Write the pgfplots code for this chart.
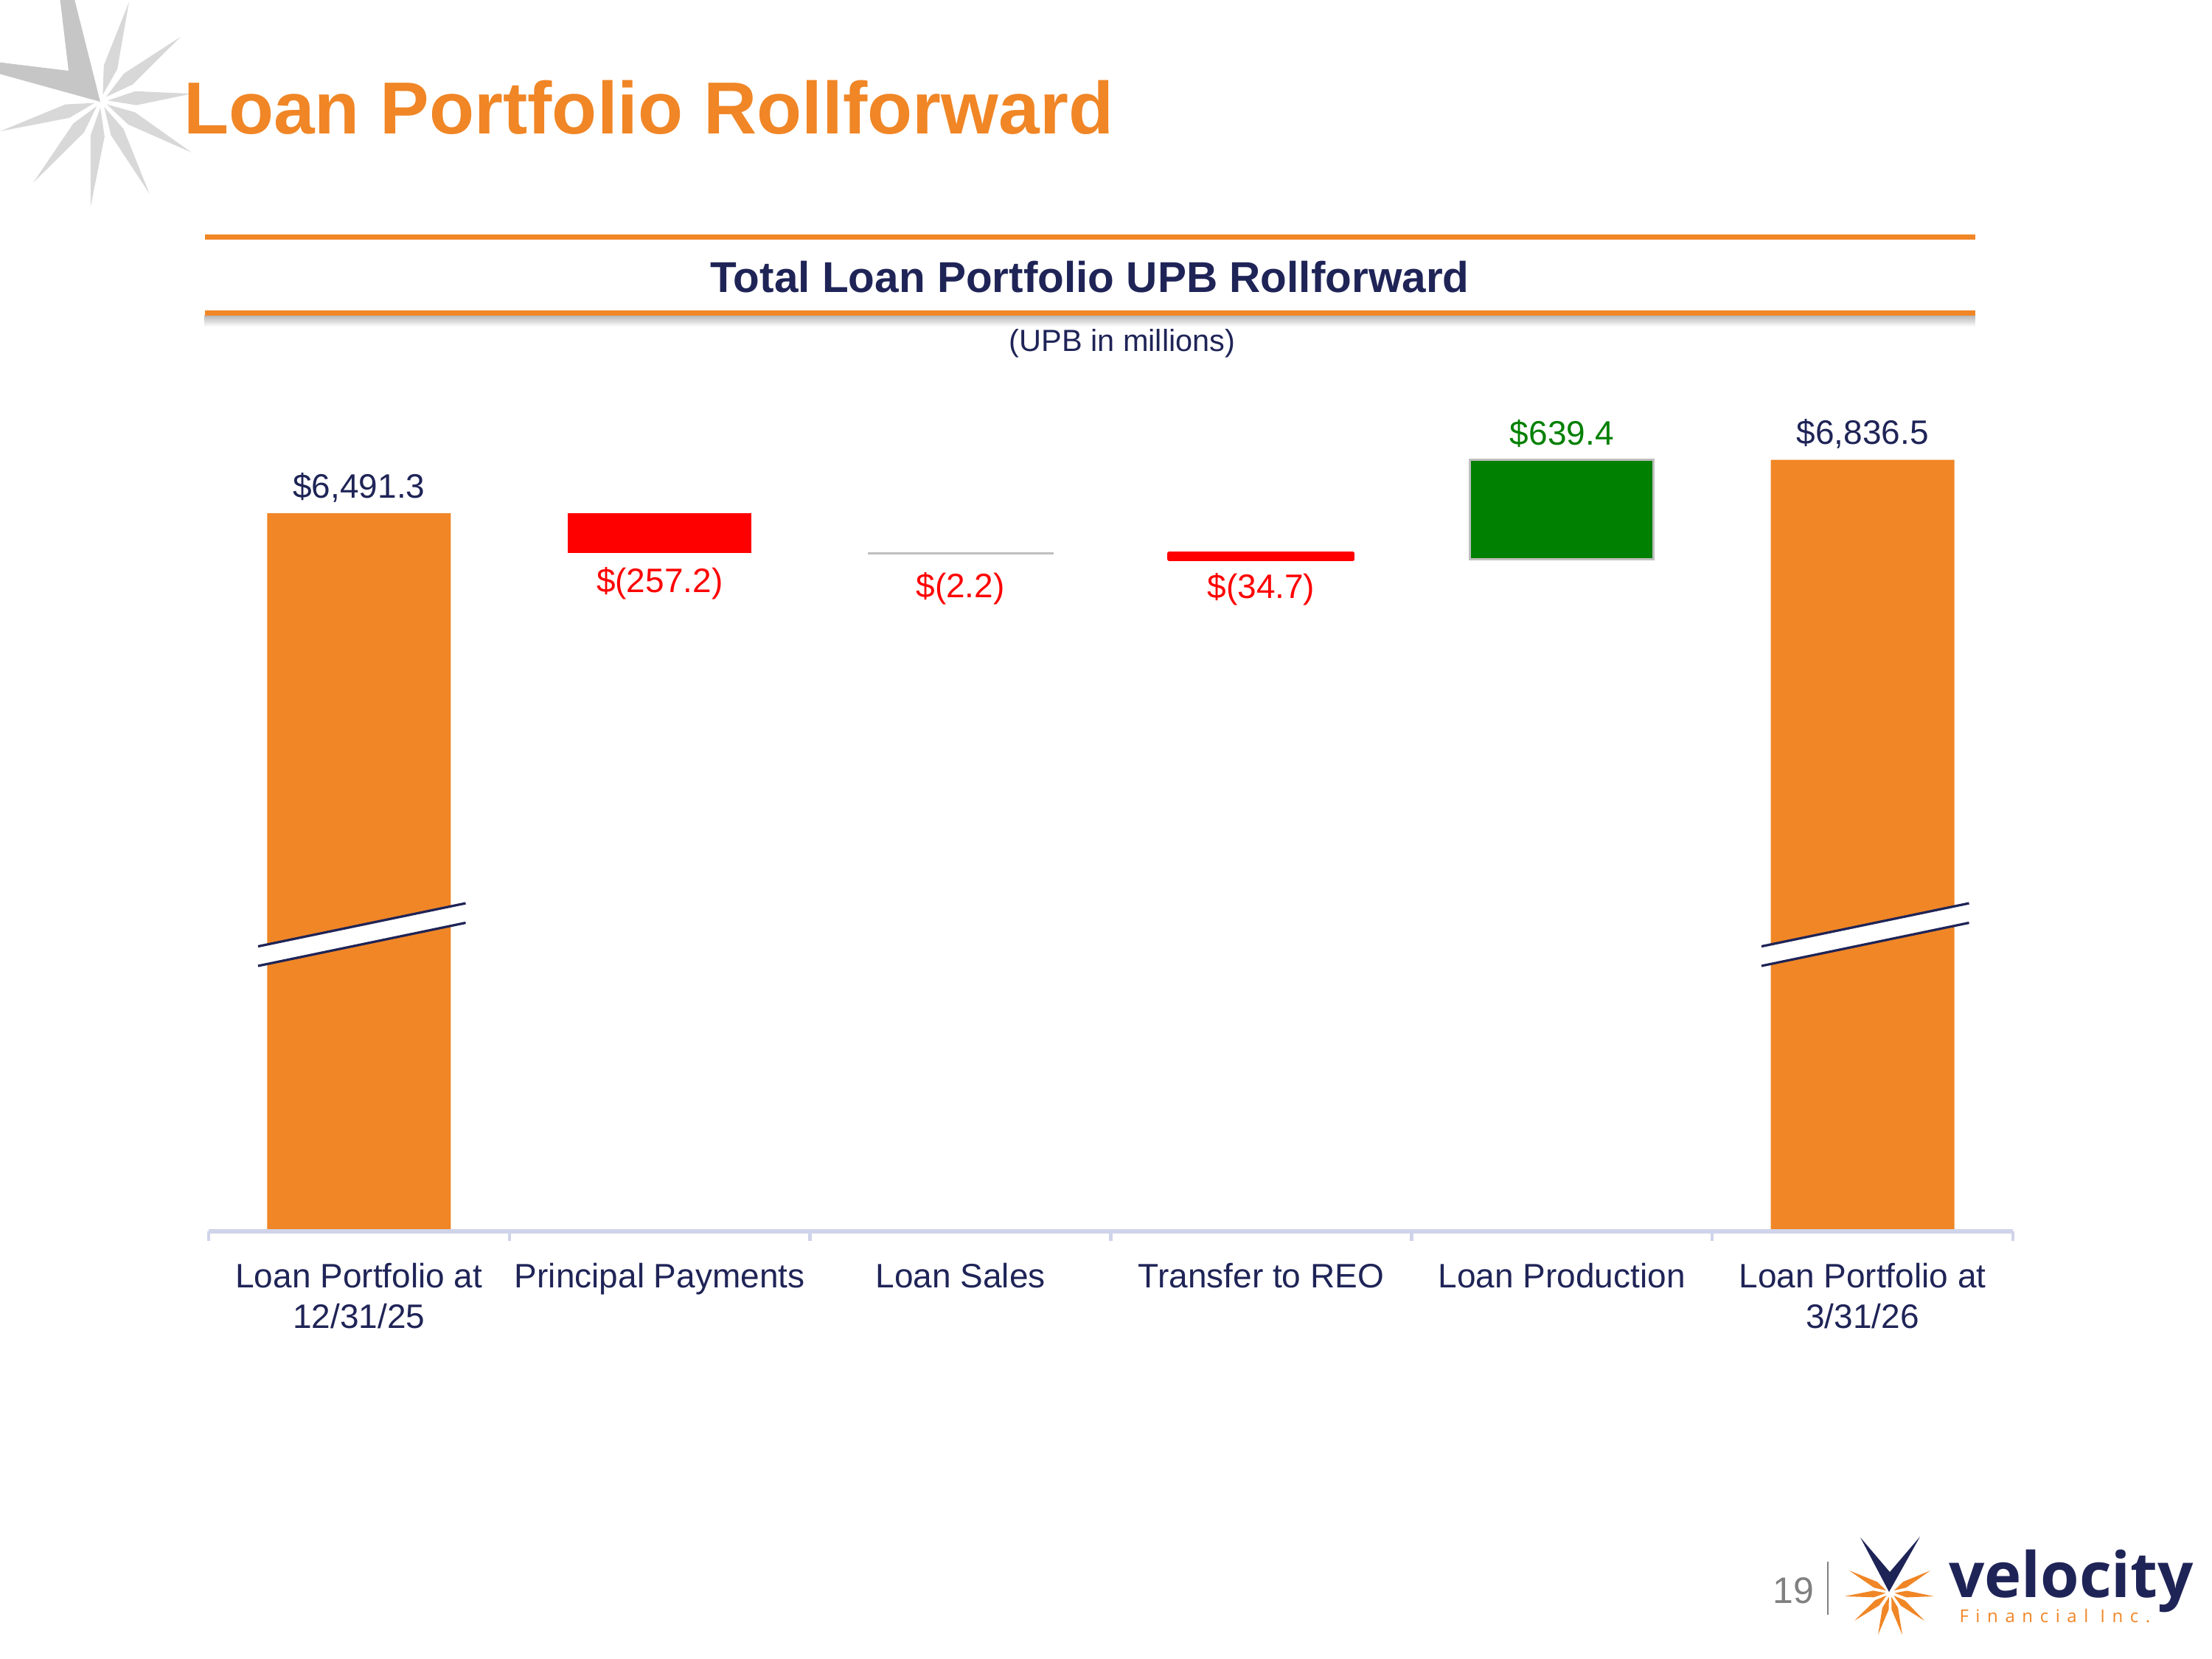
\documentclass[border=0pt]{standalone}
\usepackage{fontspec}
\setmainfont{Liberation Sans}
\newfontfamily\logofont{Open Sans}
\usepackage{pgfplots}
\pgfplotsset{compat=1.18}

\definecolor{vOrange}{RGB}{240,134,38}
\definecolor{vNavy}{RGB}{31,36,87}
\definecolor{vRed}{RGB}{255,0,0}
\definecolor{vGreen}{RGB}{0,128,0}
\definecolor{vEdge}{RGB}{191,191,191}
\definecolor{vAxis}{RGB}{208,212,234}
\definecolor{starDark}{RGB}{198,198,198}
\definecolor{starLight}{RGB}{216,216,216}
\definecolor{pageGray}{RGB}{128,128,128}

\newcommand\lblfont{\fontsize{9.2}{11.1}\selectfont}

\pgfplotsset{
  % shared geometry of every layer of the waterfall
  wfgeom/.style={
    scale only axis, width=489.4pt, height=234pt,
    at={(56.6pt,-334pt)}, anchor=south west,
    xmin=-0.5, xmax=5.5, ymin=1868, ymax=7423,
  },
  % one floating step: invisible base + visible change
  wfstep/.style={wfgeom, hide axis, ybar stacked, bar width=49.8pt},
  lbl/.style={
    nodes near coords, point meta=explicit symbolic,
    every node near coord/.append style={inner sep=0pt, font=\lblfont, #1},
  },
}

\begin{document}
\begin{tikzpicture}
\useasboundingbox (0,0) rectangle (600pt,-450pt);
\clip (0,0) rectangle (600pt,-450pt);

% grey starburst in the corner
\begin{scope}[shift={(27.4pt,-27.4pt)}]
  \foreach \a/\l in {74.2/27.9pt, 38.9/27.7pt, 4.6/24.7pt, -29.6/28.3pt,
                     -62.4/28.4pt, -95.6/28.7pt, -129.7/28.8pt, -163.3/28.6pt}{
    \fill[starLight, rotate=\a] (1.8pt,0) -- (9.5pt,1.9pt) -- (\l,0) -- (9.5pt,-1.9pt) -- cycle;
  }
\end{scope}
\fill[starDark] (27.2pt,-27.6pt) -- (20pt,1pt) -- (16.2pt,1pt) -- (18.6pt,-19.2pt)
  -- (-1pt,-16.8pt) -- (-1pt,-19.8pt) -- cycle;

% slide title
\node[anchor=base west, inner sep=0pt, text=vOrange,
      font=\fontsize{20}{24}\selectfont\bfseries] at (49.6pt,-36.3pt) {Loan Portfolio Rollforward};

% chart header band
\shade[top color=black!30, bottom color=white] (55.5pt,-85.4pt) rectangle (535.7pt,-88.6pt);
\draw[vOrange, line width=1.3pt] (55.5pt,-64.3pt) -- (535.7pt,-64.3pt);
\draw[vOrange, line width=1.3pt] (55.5pt,-84.9pt) -- (535.7pt,-84.9pt);
\node[anchor=base, inner sep=0pt, text=vNavy, font=\fontsize{11.7}{14}\selectfont\bfseries]
  at (295.6pt,-79.3pt) {Total Loan Portfolio UPB Rollforward};
\node[anchor=base, inner sep=0pt, text=vNavy, font=\fontsize{8.3}{10}\selectfont]
  at (304.4pt,-95.3pt) {(UPB in millions)};

% opening and closing balances, category axis
\begin{axis}[
  wfgeom,
  ybar, bar width=49.8pt,
  axis on top,
  axis x line*=bottom, axis y line=none,
  x axis line style={draw=vAxis, line width=1.1pt},
  xtick={0,...,5},
  xticklabels={{Loan Portfolio at\\12/31/25}, Principal Payments, Loan Sales,
               Transfer to REO, Loan Production, {Loan Portfolio at\\3/31/26}},
  major tick length=0pt,
  minor xtick={-0.5,0.5,...,5.5},
  minor tick length=2.6pt,
  minor tick style={draw=vAxis, line width=0.9pt},
  xtick pos=bottom, tick align=outside,
  ytick=\empty,
  xticklabel style={font=\lblfont, text=vNavy, align=center, inner sep=0pt, anchor=north},
  xticklabel shift=8.4pt,
]
\addplot[fill=vOrange, draw=none, lbl={anchor=south, yshift=2.8pt, text=vNavy}]
  coordinates {(0,6491.3) [{\$6,491.3}] (5,6836.5) [{\$6,836.5}]};
\end{axis}

% Principal Payments
\begin{axis}[wfstep]
\addplot[fill=none, draw=none] coordinates {(1,6234.1)};
\addplot[fill=vRed, draw=none] coordinates {(1,257.2)};
\end{axis}

% Loan Sales
\begin{axis}[wfstep]
\addplot[fill=none, draw=none] coordinates {(2,6231.9)};
\addplot[fill=vEdge, draw=vEdge, line width=0.6pt] coordinates {(2,2.2)};
\end{axis}

% Transfer to REO
\begin{axis}[wfstep]
\addplot[fill=none, draw=none] coordinates {(3,6197.2)};
\addplot[fill=vRed, draw=vRed, line width=1.0pt, line join=round] coordinates {(3,34.7)};
\end{axis}

% Loan Production
\begin{axis}[wfstep]
\addplot[fill=none, draw=none] coordinates {(4,6197.2)};
\addplot[fill=vGreen, draw=vEdge, line width=0.55pt] coordinates {(4,639.4)};
\end{axis}

% value labels of the steps, at the bar ends they describe
\begin{axis}[wfgeom, hide axis]
\addplot[draw=none, mark=none, lbl={anchor=north, yshift=-3.6pt, text=vRed}]
  coordinates {(1,6234.1) [{\$(257.2)}] (3,6197.2) [{\$(34.7)}]};
\addplot[draw=none, mark=none, lbl={anchor=north, yshift=-5pt, text=vRed}]
  coordinates {(2,6231.9) [{\$(2.2)}]};
\addplot[draw=none, mark=none, lbl={anchor=south, yshift=3.2pt, text=vGreen}]
  coordinates {(4,6836.6) [{\$639.4}]};
\end{axis}

% axis-break marks on the balance bars
\foreach \dx in {0pt,407.8pt}{
  \begin{scope}[xshift=\dx]
    \fill[white] (70pt,-256.7pt) -- (126.3pt,-245pt) -- (126.3pt,-250.3pt) -- (70pt,-262pt) -- cycle;
    \draw[vNavy, line width=0.65pt] (70pt,-256.7pt) -- (126.3pt,-245pt);
    \draw[vNavy, line width=0.65pt] (70pt,-262pt) -- (126.3pt,-250.3pt);
  \end{scope}
}

% footer: page number and company mark
\node[anchor=base, inner sep=0pt, text=pageGray, font=\fontsize{10}{12}\selectfont]
  at (486.5pt,-434.8pt) {19};
\draw[pageGray, line width=0.5pt] (495.8pt,-423.6pt) -- (495.8pt,-438pt);
\begin{scope}[shift={(512.7pt,-432pt)}]
  \foreach \a/\l in {184.6/12.4pt, 151.6/12.6pt, 28.8/12.4pt, -4.8/11.9pt,
                     -39.3/12pt, -73.9/11.9pt, -106.1/11.9pt, -141.9/12.3pt}{
    \fill[vOrange, rotate=\a] (1.2pt,0) -- (4.5pt,0.9pt) -- (\l,0) -- (4.5pt,-0.9pt) -- cycle;
  }
\end{scope}
\fill[vNavy] (504.6pt,-417pt) -- (512.4pt,-431.8pt) -- (520.8pt,-416.8pt) -- (512.6pt,-426.4pt) -- cycle;
\node[anchor=base west, inner sep=0pt, text=vNavy, font=\logofont\fontsize{17}{20}\selectfont\bfseries]
  at (528.4pt,-433.3pt) {velocity};
\node[anchor=base west, inner sep=0pt, text=vOrange,
      font=\logofont\fontsize{4.8}{6}\selectfont\addfontfeature{LetterSpace=40}]
  at (531.3pt,-440pt) {Financial Inc.};
\end{tikzpicture}
\end{document}
